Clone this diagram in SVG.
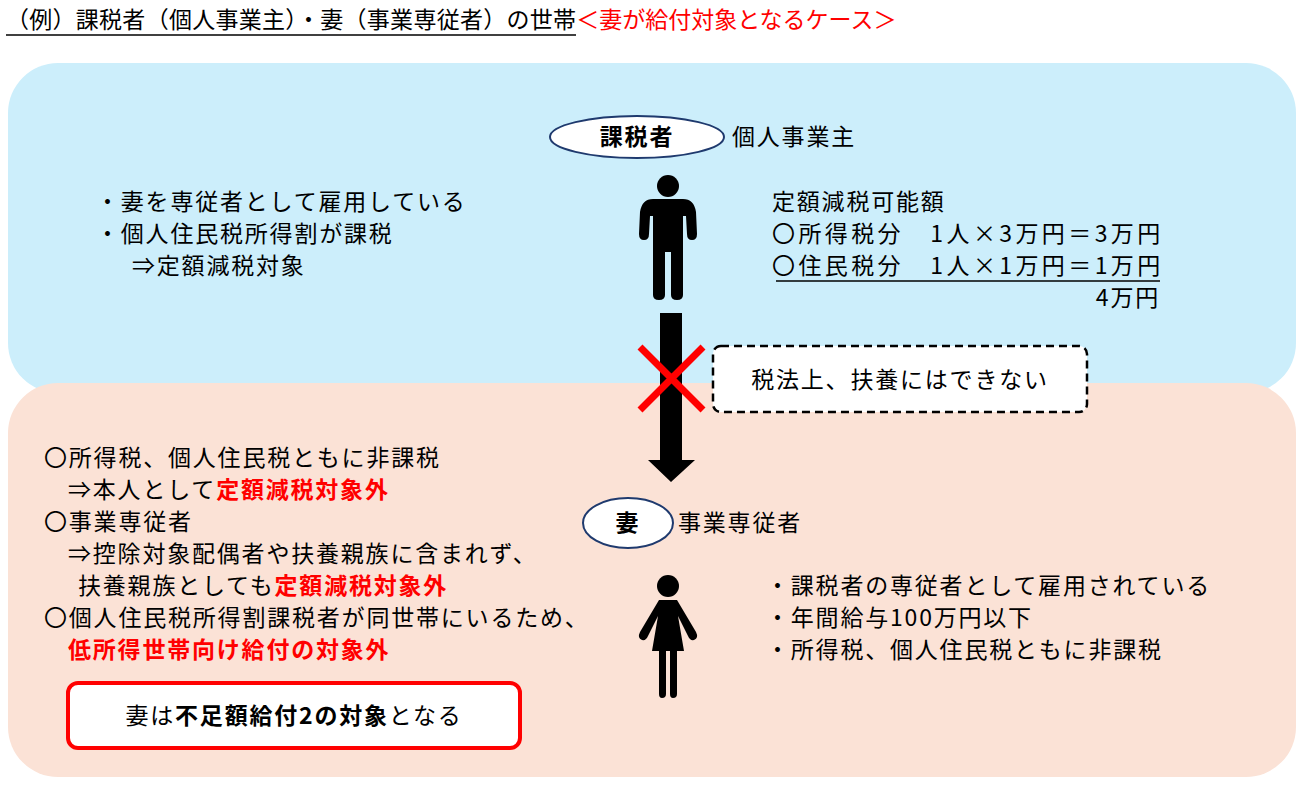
<svg xmlns="http://www.w3.org/2000/svg" width="1306" height="787" viewBox="0 0 1306 787">
<style>
text{font-family:"Noto Sans CJK JP","Noto Sans CJK SC",sans-serif;font-size:23px;letter-spacing:1.8px;fill:#000}
.r{fill:#FF0000;font-weight:bold}
.b{font-weight:bold}
</style>
<rect width="1306" height="787" fill="#fff"/>
<text x="6" y="28" style="letter-spacing:0"><tspan textLength="570" lengthAdjust="spacing">（例）課税者（個人事業主）・妻（事業専従者）の世帯</tspan><tspan fill="#FF0000">＜妻が給付対象となるケース＞</tspan></text>
<line x1="6" y1="35" x2="576" y2="35" stroke="#000" stroke-width="1.5"/>
<g id="panel-top"><rect x="8" y="63" width="1288" height="330" rx="50" fill="#CCEEFB"/></g>
<g id="panel-bottom"><rect x="8" y="383" width="1288" height="394" rx="50" fill="#FBE2D6"/></g>
<g id="taxpayer">
<ellipse cx="637" cy="137" rx="87" ry="21" fill="#fff" stroke="#1F3A6E" stroke-width="2"/>
<text x="637" y="145" text-anchor="middle" class="b">課税者</text>
<text x="732" y="145">個人事業主</text>
<circle cx="668" cy="186" r="11"/>
<path d="M653 199 H683 Q694 199 696 212 L697 234 Q697 240 692 240 Q687 240 687 234 L686 216 L683 216 V295 Q683 300 677 300 Q671 300 671 295 V252 H665 V295 Q665 300 659 300 Q653 300 653 295 V216 L650 216 L649 234 Q649 240 644 240 Q639 240 639 234 L640 212 Q642 199 653 199 Z"/>
</g>
<g id="left-top">
<text x="96" y="210">・妻を専従者として雇用している</text>
<text x="96" y="242">・個人住民税所得割が課税</text>
<text x="132" y="274">⇒定額減税対象</text>
</g>
<g id="right-top">
<text x="772" y="210">定額減税可能額</text>
<text x="772" y="242" textLength="390" lengthAdjust="spacing">〇所得税分　1人×3万円＝3万円</text>
<text x="772" y="274" textLength="390" lengthAdjust="spacing">〇住民税分　1人×1万円＝1万円</text>
<line x1="776" y1="281" x2="1160" y2="281" stroke="#000" stroke-width="1.5"/>
<text x="1160" y="306" text-anchor="end">4万円</text>
</g>
<g id="connectors">
<path d="M660 313 H682 V460 H695 L671 482 L648 460 H660 Z"/>
<path d="M640 347 L703 410 M703 347 L640 410" stroke="#FF0000" stroke-width="7"/>
</g>
<g id="note">
<rect x="713" y="346" width="374" height="66" rx="8" fill="#fff" stroke="#000" stroke-width="2.5" stroke-dasharray="8,5"/>
<text x="900" y="388" text-anchor="middle">税法上、扶養にはできない</text>
</g>
<g id="wife">
<ellipse cx="628" cy="523" rx="45" ry="25" fill="#fff" stroke="#1F3A6E" stroke-width="2"/>
<text x="628" y="531" text-anchor="middle" class="b">妻</text>
<text x="678" y="531">事業専従者</text>
<circle cx="668" cy="586" r="11"/>
<path d="M659 600 H677 L696 632 Q699 638 694 640 Q690 641 688 636 L678 616 L684 651 H677 V694 Q677 698 673 698 Q670 698 670 694 V651 H666 V694 Q666 698 662 698 Q659 698 659 694 V651 H652 L658 616 L648 636 Q646 641 642 640 Q637 638 640 632 Z"/>
</g>
<g id="left-bottom">
<text x="44" y="466">〇所得税、個人住民税ともに非課税</text>
<text x="68" y="498">⇒本人として<tspan class="r">定額減税対象外</tspan></text>
<text x="44" y="530">〇事業専従者</text>
<text x="68" y="562">⇒控除対象配偶者や扶養親族に含まれず、</text>
<text x="78" y="594">扶養親族としても<tspan class="r">定額減税対象外</tspan></text>
<text x="44" y="626">〇個人住民税所得割課税者が同世帯にいるため、</text>
<text x="68" y="658" class="r">低所得世帯向け給付の対象外</text>
</g>
<g id="right-bottom">
<text x="766" y="594">・課税者の専従者として雇用されている</text>
<text x="766" y="626">・年間給与100万円以下</text>
<text x="766" y="658">・所得税、個人住民税ともに非課税</text>
</g>
<g id="result">
<rect x="68" y="683" width="452" height="65" rx="10" fill="#fff" stroke="#FF0000" stroke-width="4"/>
<text x="294" y="724" text-anchor="middle">妻は<tspan class="b">不足額給付2の対象</tspan>となる</text>
</g>
</svg>
